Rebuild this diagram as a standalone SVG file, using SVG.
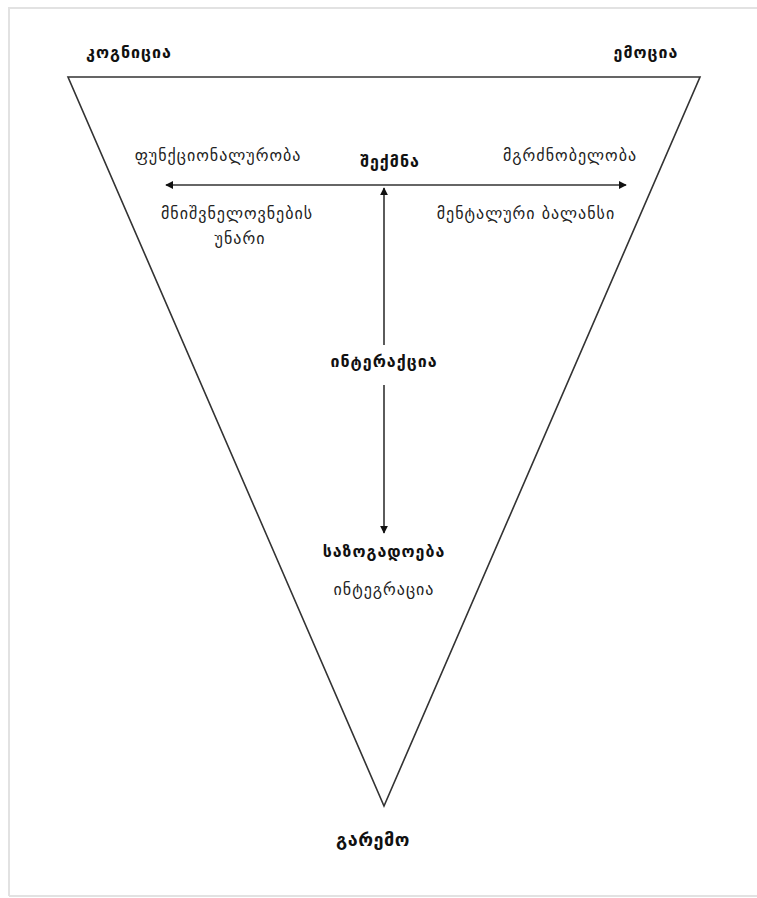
<svg xmlns="http://www.w3.org/2000/svg" width="757" height="898" viewBox="0 0 757 898">
<style>
.t{font-family:"DejaVu Sans","Noto Sans",sans-serif;font-size:16px;letter-spacing:1px;fill:#222;text-anchor:middle}
.b{font-weight:bold;fill:#111}
.ln{stroke:#333;stroke-width:1.6;fill:none}
</style>
<defs>
<marker id="ah" viewBox="0 0 10 10" refX="9" refY="5" markerWidth="8" markerHeight="8" markerUnits="userSpaceOnUse" orient="auto">
<path d="M0,0 L10,5 L0,10 z" fill="#111"/>
</marker>
</defs>
<rect x="0" y="0" width="757" height="898" fill="#fff"/>
<path d="M9,896 L9,8 L757,8 M9,896 L757,896" fill="none" stroke="#e2e2e2" stroke-width="2"/>
<g id="triangle"><path class="ln" d="M68,77 L700,77 L384,806 Z"/></g>
<g id="connectors">
<line class="ln" x1="384" y1="185" x2="166" y2="185" marker-end="url(#ah)"/>
<line class="ln" x1="384" y1="185" x2="626" y2="185" marker-end="url(#ah)"/>
<line class="ln" x1="384" y1="345" x2="384" y2="188" marker-end="url(#ah)"/>
<line class="ln" x1="384" y1="385" x2="384" y2="533" marker-end="url(#ah)"/>
</g>
<g id="kognicia"><text class="t b" x="129" y="58">კოგნიცია</text></g>
<g id="emocia"><text class="t b" x="646" y="58">ემოცია</text></g>
<g id="funqcionaluroba"><text class="t" x="218" y="161">ფუნქციონალურობა</text></g>
<g id="sheqmna"><text class="t b" x="390" y="167">შექმნა</text></g>
<g id="mgrdznobeloba"><text class="t" x="570" y="161">მგრძნობელობა</text></g>
<g id="mnishvnelovneba"><text class="t" x="237" y="219">მნიშვნელოვნების</text><text class="t" x="240" y="244">უნარი</text></g>
<g id="mentaluri"><text class="t" x="526" y="219">მენტალური ბალანსი</text></g>
<g id="interaqcia"><text class="t b" x="384" y="367">ინტერაქცია</text></g>
<g id="sazogadoeba"><text class="t b" x="384" y="557">საზოგადოება</text></g>
<g id="integracia"><text class="t" x="384" y="595">ინტეგრაცია</text></g>
<g id="garemo"><text class="t b" x="373" y="846" style="font-size:18px;letter-spacing:0.5px">გარემო</text></g>
</svg>
